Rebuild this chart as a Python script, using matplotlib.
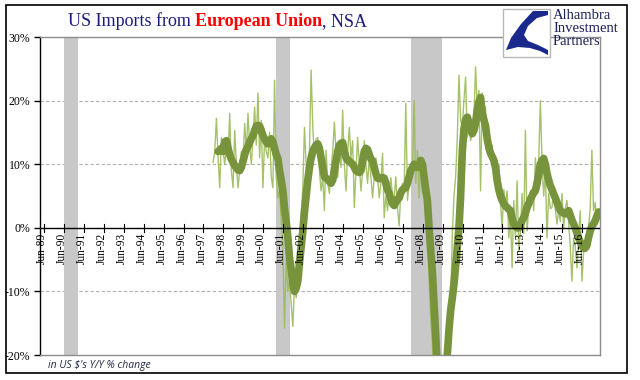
import numpy as np
import matplotlib
matplotlib.use("Agg")
import matplotlib.pyplot as plt
from matplotlib.patches import Rectangle, Polygon

# ---------------- data ----------------
# month index: 0 = Jan-1989
thin_start = 108   # Jan-1998
thin_values = [
    10.3, 12, 17.2, 11, 6.3, 14.2, 12, 10, 13, 11, 18, 9,            # 1998
    6.3, 15.3, 10, 6.3, 9, 12, 10, 16.4, 12, 18, 13, 10,             # 1999
    14, 19, 13, 21.2, 11, 16.9, 6.3, 14, 12, 11, 15, 8,              # 2000
    6.3, 23.2, 8, 4.7, 6, 1, -3, -15.8, -5, -10, -8.4, -12,          # 2001
    -15.5, -9, -11, -5.2, -3, 2, 6.3, 15.8, 10, 7, 12, 24.8,         # 2002
    16, 11, 14, 14.2, 9, 5.8, 8, 2.7, 12.2, 7, 5.4, 9,               # 2003
    12, 16.6, 12, 7.9, 13, 9.5, 18.5, 10, 5.8, 12, 15.8, 11,         # 2004
    13.7, 3.2, 9, 14.2, 10, 5.8, 9, 13.7, 10, 7, 11, 8,              # 2005
    4.7, 8, 11, 8, 4.7, 7, 11.7, 1.6, 5, 2.7, 6, 7.9,                # 2006
    5, 4.7, 8, 3, 0.3, 5.8, 7, 6, 19.6, 4.3, 7, 9,                   # 2007
    9, 20, 7, 12.2, 4.7, 10, 5.4, 9, 7.9, 3, -8, -14.2,              # 2008
    -18, -25, -28, -30, -32, -30, -28, -27, -24, -22, -16, -12,      # 2009
    -1, 5, 8, 14.2, 24, 17, 15.8, 20, 23.7, 14.2, 16, 13.7,          # 2010
    15, 17.4, 25.3, 19, 21.6, 5.8, 21.2, 14.8, 19, 12, 13.3, 11,     # 2011
    13, 9, 11, 5.8, 10, 4, 0, 6, 3.8, 5.8, -1.6, 2,                  # 2012
    -6.3, 4.3, -1.6, 7.4, -3.6, -0.5, 5.4, -0.9, 15.3, -0.5, 3.2, 5.8,  # 2013
    6, 2.7, 11, 7, 10.6, 20, 10.6, 5, 9, -1.6, 5.4, 3,               # 2014
    3.2, 6, 3, 0.6, 2.7, 1, 5.4, 0, 3, 4.3, 1, -3,                   # 2015
    -8.4, -1.6, -3, -6.3, -2, 2.7, -8.4, -4, -2, -3, 0, 3,           # 2016
    12.2, 2.7, 4, 0.6, 2.7,                                          # 2017
]

thick_start = 111  # Apr-1998
thick_values = [
    12, 12.2, 12.5, 12.0, 13.5, 13.7, 12.5, 11.5, 10.8,                      # 1998
    10.3, 9.8, 9.4, 9.1, 9.0, 9.5, 10.5, 11.5, 12.3, 12.8, 13.5, 14.0,       # 1999
    14.5, 15.3, 16.0, 16.1, 16.0, 15.3, 14.5, 14.0, 13.5, 13.2, 13.5, 14.0,  # 2000
    13.5, 12.5, 11.5, 10.9, 9.0, 7.5, 5.8, 3.0, 1.0, -1.5, -4.7, -6.5,       # 2001
    -8.8, -10, -9.5, -8.4, -5.5, -3, -0.5, 2.5, 5, 7.5, 9.5, 11,             # 2002
    12, 12.6, 13, 13.2, 12.5, 11, 9.5, 8, 7.8, 7.6, 7.3, 7,                  # 2003
    7.5, 9, 10.5, 12, 13, 13.3, 13.4, 12, 11, 10.6, 10.5, 10.2,              # 2004
    10, 9.5, 9, 8.8, 8.7, 9, 10.5, 12, 12.5, 12.3, 11.5, 10.8,               # 2005
    10.5, 9.5, 8.5, 7.8, 7.7, 7.8, 7.9, 7.8, 7, 6, 5.4, 4.5,                 # 2006
    3.8, 3.5, 4, 4.5, 4.7, 5.5, 6, 6.2, 6.3, 7, 8, 9,                        # 2007
    9.5, 10, 9.8, 9.5, 10, 10.6, 10, 8, 6, 4.3, 0, -3.6,                     # 2008
    -7, -12, -17, -22, -25, -27, -27, -25, -22, -19.8, -16, -13,             # 2009
    -11, -8.8, -6, -3, 0, 5, 12, 15.5, 17, 17.4, 16.6, 15.5,                 # 2010
    14.8, 15.3, 16.5, 18.5, 19.8, 20.5, 18, 17, 16, 14, 12.6, 11.7,          # 2011
    11.2, 10.6, 9.5, 7.4, 6, 5, 4.3, 3.8, 3.4, 3.2, 2.9, 2.7,                # 2012
    1.5, 0.6, 0.3, 0, 0, 0.5, 1.2, 1.6, 2.3, 3.2, 3.8, 4.5,                  # 2013
    5, 5.5, 5.8, 7, 8.5, 10, 10.6, 10.9, 10, 8.5, 7.5, 6.6,                  # 2014
    6, 5.3, 4.7, 4, 3.3, 2.7, 2.5, 2.3, 2.2, 2.2, 2.7, 2,                    # 2015
    1.2, 0.6, 0, -0.8, -1.6, -2.2, -2.8, -3.2, -3.2, -2.8, -1.5, -0.5,       # 2016
    0.3, 0.6, 1.1, 1.8, 2.5,                                                 # 2017
]

# recessions (start month index, end month index)
recessions = [(18, 26.5), (146, 154.5), (227, 245.5)]

tick_years = list(range(1989, 2017))
tick_labels = ["Jun-%02d" % (y % 100) for y in tick_years]
y_ticks = [-20, -10, 0, 10, 20, 30]
y_labels = ["-20%", "-10%", "0%", "10%", "20%", "30%"]

# ---------------- figure ----------------
W, H = 640, 380
fig = plt.figure(figsize=(W / 100, H / 100), dpi=100)
fig.patch.set_facecolor("white")

ax = fig.add_axes([40 / W, 1 - 355 / H, 560 / W, 318 / H])
ax.set_xlim(3.8, 340.9)
ax.set_ylim(-20, 30)

for s, e in recessions:
    ax.axvspan(s, e, color="#C8C8C8", lw=0, zorder=1)

for yv in (20, 10, -10):
    ax.axhline(yv, color="#B0B0B0", lw=0.8, ls=(0, (3, 2)), zorder=0.5)
ax.axhline(0, color="black", lw=1.0, zorder=4)

x_thin = np.arange(thin_start, thin_start + len(thin_values))
x_thick = np.arange(thick_start, thick_start + len(thick_values))
ax.plot(x_thin, thin_values, color="#9BBB59", lw=1.0, alpha=0.9, zorder=3)
ax.plot(x_thick, thick_values, color="#77933C", lw=5.5, zorder=3.5,
        solid_joinstyle="round", solid_capstyle="round")

for side in ("top", "right", "bottom"):
    ax.spines[side].set_color("#8C8C8C")
    ax.spines[side].set_linewidth(1.0)
ax.spines["left"].set_color("black")
ax.spines["left"].set_linewidth(1.0)

ax.set_yticks(y_ticks)
ax.set_yticklabels(y_labels, fontfamily="Liberation Serif", fontsize=8.5)
ax.tick_params(axis="y", direction="out", length=4, width=1, pad=3)

ax.set_xticks([])
tick_pos = [(y - 1989) * 12 + 5 for y in tick_years]
for xp, lab in zip(tick_pos, tick_labels):
    ax.plot([xp + 1.2, xp + 1.2], [-0.6, 0.6], color="black", lw=0.8, zorder=5, clip_on=False)
    ax.text(xp, -0.8, lab, rotation=90, ha="center", va="top",
            fontfamily="Liberation Serif", fontsize=8.3, zorder=5)

# ---------------- overlay (pixel coords) ----------------
ov = fig.add_axes([0, 0, 1, 1], zorder=10)
ov.set_xlim(0, W)
ov.set_ylim(H, 0)
ov.axis("off")
ov.patch.set_alpha(0)

ov.add_patch(Rectangle((6, 5), 621, 368, fill=False, ec="black", lw=1.2))

# logo
ov.add_patch(Rectangle((503, 9), 47, 48, fc="white", ec="#B8B8B8", lw=1.0))
logo_pts = [(548, 11), (533, 11), (521, 24), (511, 38), (506, 50), (518, 47),
            (530, 48), (540, 51), (548, 55), (548, 50), (538, 45), (528, 41),
            (524, 35), (528, 26), (537, 18), (548, 15)]
ov.add_patch(Polygon(logo_pts, closed=True, fc="#1A2A8C", ec="none"))
for i, word in enumerate(["Alhambra", "Investment", "Partners"]):
    ov.text(553, 19 + i * 13, word, fontfamily="Liberation Serif", fontsize=10.5,
            color="#1B1F5A", va="baseline", ha="left")

# title in parts
renderer = fig.canvas.get_renderer()
parts = [("US Imports from ", "#1B1B7E", "normal"),
         ("European Union", "#FF0000", "bold"),
         (", NSA", "#1B1B7E", "normal")]
x = 68
for txt, col, wt in parts:
    t = ov.text(x, 26, txt, color=col, fontweight=wt, fontfamily="Liberation Serif",
                fontsize=13, va="baseline", ha="left")
    bb = t.get_window_extent(renderer)
    x += bb.width

ov.text(48, 368, "in US $'s Y/Y % change", fontfamily="Open Sans", style="italic",
        fontsize=7.5, color="#1F2A44", va="baseline", ha="left")

fig.savefig("out.png", dpi=100)
